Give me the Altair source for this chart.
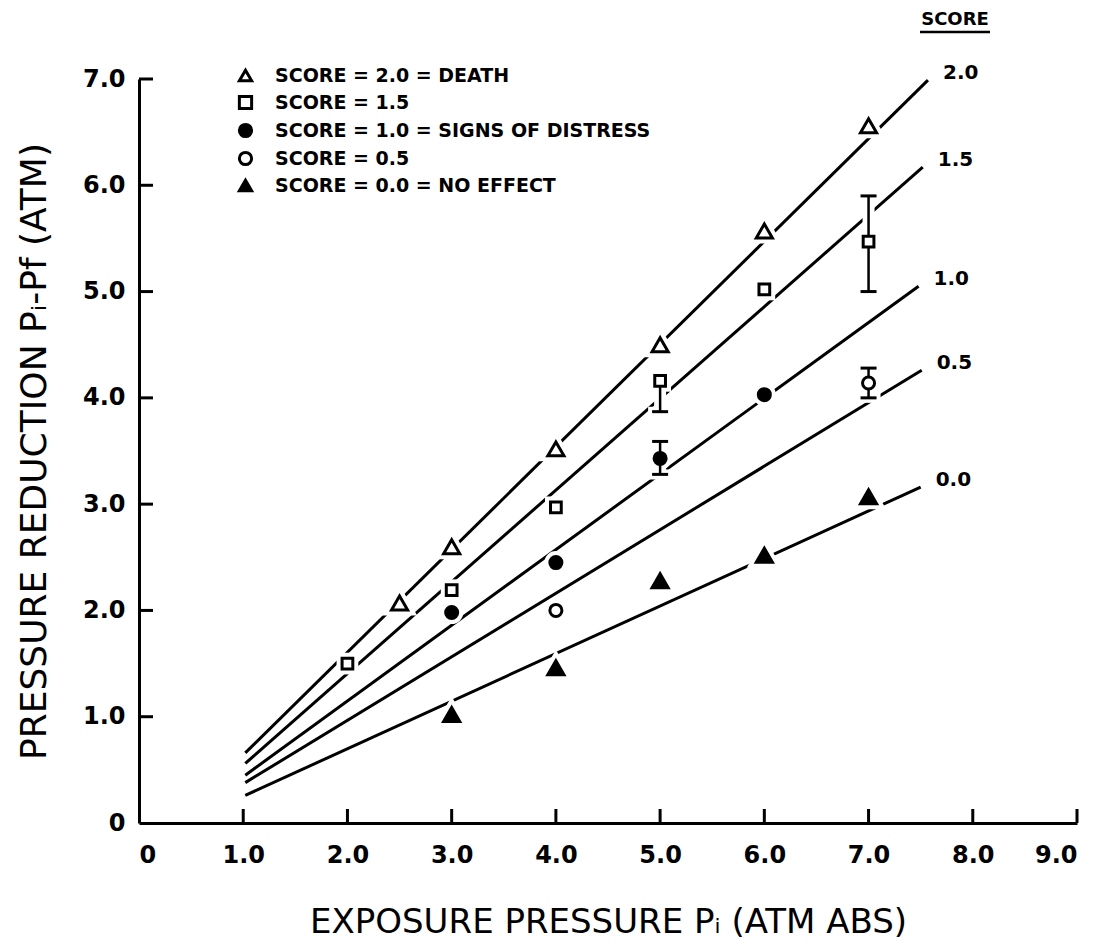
import altair as alt
import pandas as pd

# ---------------- data ----------------
score_keys = ["2.0", "1.5", "1.0", "0.5", "0.0"]
legend_labels = [
    "SCORE = 2.0 = DEATH",
    "SCORE = 1.5",
    "SCORE = 1.0 = SIGNS OF DISTRESS",
    "SCORE = 0.5",
    "SCORE = 0.0 = NO EFFECT",
]
marker_shapes = ["triangle-up", "square", "circle", "circle", "triangle-up"]
marker_fills = ["white", "white", "black", "white", "black"]
marker_strokes = ["black", "black", "black", "black", "black"]

# observed points per score
x_s20 = [2.5, 3.0, 4.0, 5.0, 6.0, 7.0]
y_s20 = [2.07, 2.60, 3.52, 4.50, 5.57, 6.56]
x_s15 = [2.0, 3.0, 4.0, 5.0, 6.0, 7.0]
y_s15 = [1.50, 2.19, 2.97, 4.16, 5.02, 5.47]
x_s10 = [3.0, 4.0, 5.0, 6.0]
y_s10 = [1.98, 2.45, 3.43, 4.03]
x_s05 = [4.0, 7.0]
y_s05 = [2.00, 4.14]
x_s00 = [3.0, 4.0, 5.0, 6.0, 7.0]
y_s00 = [1.02, 1.46, 2.28, 2.52, 3.07]

# fitted lines (start and end points)
line_x_start = [1.02, 1.02, 1.02, 1.02, 1.02]
line_y_start = [0.66, 0.56, 0.45, 0.38, 0.26]
line_x_end = [7.57, 7.52, 7.48, 7.51, 7.50]
line_y_end = [6.99, 6.17, 5.05, 4.26, 3.16]

# error bars
err_x = [5.0, 7.0, 5.0, 7.0]
err_lo = [3.87, 5.00, 3.28, 4.00]
err_hi = [4.16, 5.90, 3.59, 4.28]
cap_x = [5.0, 7.0, 7.0, 5.0, 5.0, 7.0, 7.0]
cap_y = [3.87, 5.90, 5.00, 3.59, 3.28, 4.28, 4.00]

x_tick_values = [1, 2, 3, 4, 5, 6, 7, 8, 9]
y_tick_values = [1, 2, 3, 4, 5, 6, 7]

# ---------------- tables ----------------
pts_x = [x_s20, x_s15, x_s10, x_s05, x_s00]
pts_y = [y_s20, y_s15, y_s10, y_s05, y_s00]
rows = []
for lab, xs, ys in zip(legend_labels, pts_x, pts_y):
    for xv, yv in zip(xs, ys):
        rows.append({"label": lab, "x": xv, "y": yv})
points = pd.DataFrame(rows)

line_rows = []
for k, xs, ys, xe, ye in zip(score_keys, line_x_start, line_y_start, line_x_end, line_y_end):
    line_rows.append({"score": k, "x": xs, "y": ys})
    line_rows.append({"score": k, "x": xe, "y": ye})
lines_df = pd.DataFrame(line_rows)

ends_df = pd.DataFrame({"score": score_keys, "x": line_x_end, "y": line_y_end})
err_df = pd.DataFrame({"x": err_x, "lo": err_lo, "hi": err_hi})
cap_df = pd.DataFrame({"x": cap_x, "y": cap_y})
xt_df = pd.DataFrame({"v": x_tick_values})
yt_df = pd.DataFrame({"v": y_tick_values})

FONT = "DejaVu Sans"
W, H = 938, 744

xscale = alt.Scale(domain=[0, 9], nice=False, zero=True)
yscale = alt.Scale(domain=[0, 7], nice=False, zero=True)

label_expr = "datum.value == 0 ? '0' : format(datum.value, '.1f')"

x_axis = alt.Axis(
    values=list(range(0, 10)), labelExpr=label_expr, ticks=False, tickSize=0,
    grid=False, domainColor="black", domainWidth=3,
    labelFont=FONT, labelFontSize=24, labelFontWeight="bold", labelColor="black",
    labelPadding=20,
    title="EXPOSURE PRESSURE Pᵢ (ATM ABS)", titleFont=FONT, titleFontSize=34,
    titleFontWeight="normal", titleColor="black", titleY=109, titleBaseline="alphabetic",
)
y_axis = alt.Axis(
    values=list(range(0, 8)), labelExpr=label_expr, ticks=False, tickSize=0,
    grid=False, domainColor="black", domainWidth=3,
    labelFont=FONT, labelFontSize=24, labelFontWeight="bold", labelColor="black",
    labelPadding=14,
    title="PRESSURE REDUCTION Pᵢ-Pf (ATM)", titleFont=FONT, titleFontSize=36,
    titleFontWeight="normal", titleColor="black", titleAngle=270,
    titleX=-94, titleY=H / 2, titleBaseline="alphabetic",
)

X = alt.X("x:Q", scale=xscale, axis=x_axis)
Y = alt.Y("y:Q", scale=yscale, axis=y_axis)

tri_labels = [legend_labels[0], legend_labels[4]]
sq_labels = [legend_labels[1]]


def marker_size(tri, sq, other):
    return (
        alt.when(alt.FieldOneOfPredicate(field="label", oneOf=tri_labels)).then(alt.value(tri))
        .when(alt.FieldOneOfPredicate(field="label", oneOf=sq_labels)).then(alt.value(sq))
        .otherwise(alt.value(other))
    )


lines = alt.Chart(lines_df).mark_line(color="black", strokeWidth=3).encode(
    x=X, y=Y, detail="score:N"
)

# white halos to create gaps in lines around markers and error bars
err_halo = alt.Chart(err_df).mark_rule(color="white", strokeWidth=12).encode(
    x="x:Q", y="lo:Q", y2="hi:Q"
)
cap_halo = alt.Chart(cap_df).mark_tick(orient="horizontal", color="white", size=24, thickness=10, opacity=1).encode(
    x="x:Q", y="y:Q"
)
pt_halo = alt.Chart(points).mark_point(filled=True, fill="white", stroke="white", strokeWidth=11, opacity=1).encode(
    x="x:Q", y="y:Q",
    shape=alt.Shape("label:N", scale=alt.Scale(domain=legend_labels, range=marker_shapes), legend=None),
    size=marker_size(260, 115, 145),
)

err_rule = alt.Chart(err_df).mark_rule(color="black", strokeWidth=2.5).encode(
    x="x:Q", y="lo:Q", y2="hi:Q"
)
err_cap = alt.Chart(cap_df).mark_tick(orient="horizontal", color="black", size=16, thickness=3, opacity=1).encode(
    x="x:Q", y="y:Q"
)

legend = alt.Legend(
    title=None, orient="none", legendX=97, legendY=-13, padding=0,
    labelFont=FONT, labelFontSize=19, labelFontWeight="bold", labelColor="black",
    labelOffset=20, rowPadding=3, symbolSize=150, symbolStrokeColor="black",
    symbolStrokeWidth=3, symbolOpacity=1, labelLimit=600,
)
markers = alt.Chart(points).mark_point(strokeWidth=3, opacity=1).encode(
    x="x:Q", y="y:Q",
    shape=alt.Shape("label:N", scale=alt.Scale(domain=legend_labels, range=marker_shapes), legend=legend),
    fill=alt.Fill("label:N", scale=alt.Scale(domain=legend_labels, range=marker_fills), legend=legend),
    stroke=alt.Stroke("label:N", scale=alt.Scale(domain=legend_labels, range=marker_strokes), legend=legend),
    size=marker_size(260, 115, 145),
)

xticks = alt.Chart(xt_df).mark_rule(color="black", strokeWidth=3).encode(
    x=alt.X("v:Q"), y=alt.value(H), y2=alt.value(H - 14)
)
yticks = alt.Chart(yt_df).mark_rule(color="black", strokeWidth=3).encode(
    y=alt.Y("v:Q"), x=alt.value(0), x2=alt.value(14)
)

end_labels = alt.Chart(ends_df).mark_text(
    font=FONT, fontSize=20, fontWeight="bold", color="black", align="left",
    baseline="middle", dx=15, dy=-7
).encode(x="x:Q", y="y:Q", text="score:N")

score_head = alt.Chart(alt.Data(values=[{"t": "SCORE"}])).mark_text(
    font=FONT, fontSize=18, fontWeight="bold", color="black", align="center", baseline="alphabetic"
).encode(x=alt.value(816), y=alt.value(-54), text="t:N")
score_line = alt.Chart(alt.Data(values=[{"t": "SCORE"}])).mark_rule(color="black", strokeWidth=2.5).encode(
    x=alt.value(781), x2=alt.value(851), y=alt.value(-47)
)

chart = alt.layer(
    lines, err_halo, cap_halo, pt_halo, err_rule, err_cap, markers,
    xticks, yticks, end_labels, score_head, score_line
).resolve_scale(shape="independent", fill="independent", stroke="independent").properties(
    width=W, height=H,
    autosize=alt.AutoSizeParams(type="none"),
    padding={"left": 131, "top": 71, "right": 34, "bottom": 117},
    background="white",
).configure_view(stroke=None)

chart.save("out.html", embed_options={"renderer": "svg", "actions": False})
